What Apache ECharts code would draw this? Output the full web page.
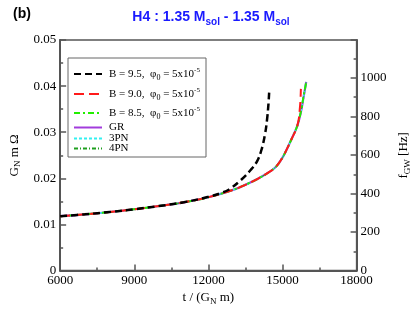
<!DOCTYPE html>
<html>
<head>
<meta charset="utf-8">
<script src="https://cdn.jsdelivr.net/npm/echarts@6/dist/echarts.min.js"></script>
<style>html,body{margin:0;padding:0;background:#fff}#c{width:420px;height:311px}</style>
</head>
<body>
<div id="c"></div>
<script>
// ---- data ----
var tGR   = [6000, 7000, 8000, 9000, 10000, 11000, 12000, 13000, 13500, 14000, 14500, 14750, 15000, 15200, 15400, 15600, 15750, 15850, 15960];
var wGR   = [0.0118, 0.0122, 0.0127, 0.0133, 0.0140, 0.0148, 0.0159, 0.0175, 0.0186, 0.0199, 0.0215, 0.0226, 0.0245, 0.0266, 0.0289, 0.0314, 0.0345, 0.0375, 0.0409];
var t3PN  = tGR;
var w3PN  = wGR;
var t4PN  = tGR;
var w4PN  = wGR;
var tB85  = [6000, 7000, 8000, 9000, 10000, 11000, 12000, 13000, 13500, 14000, 14500, 14750, 15000, 15200, 15400, 15600, 15750, 15850, 15970];
var wB85  = [0.0118, 0.0122, 0.0127, 0.0133, 0.0140, 0.0148, 0.0159, 0.0175, 0.0186, 0.0199, 0.0215, 0.0226, 0.0245, 0.0266, 0.0289, 0.0314, 0.0346, 0.0377, 0.0411];
var tB90  = [6000, 7000, 8000, 9000, 10000, 11000, 12000, 13000, 13500, 14000, 14500, 14750, 15000, 15200, 15400, 15550, 15650, 15700, 15730, 15745];
var wB90  = [0.0118, 0.0122, 0.0127, 0.0133, 0.0140, 0.0148, 0.0159, 0.0175, 0.0186, 0.0199, 0.0215, 0.0226, 0.0245, 0.0266, 0.0289, 0.0306, 0.0326, 0.0350, 0.0372, 0.0394];
var tB95  = [6000, 7000, 8000, 9000, 10000, 11000, 12000, 12500, 12840, 13330, 13710, 13970, 14150, 14300, 14380, 14430, 14460];
var wB95  = [0.0118, 0.0122, 0.0127, 0.0133, 0.0140, 0.0148, 0.0160, 0.0168, 0.0176, 0.0197, 0.0218, 0.0237, 0.0262, 0.0298, 0.0330, 0.0360, 0.0386];
var xTicks = [6000, 18000, 3000];
var yTicks = [0, 0.05, 0.01];
var fTicks = [0, 1196.8, 200];

function pairs(t, w) { return t.map(function (v, i) { return [v, w[i]]; }); }
function plain(v) { return String(v); }

var serif = 'Liberation Serif';
var rich = {
  n: {fontFamily: serif, fontSize: 11, color: '#000'},
  sub: {fontFamily: serif, fontSize: 8, color: '#000', padding: [7, 0, 0, 0]},
  sup: {fontFamily: serif, fontSize: 7, color: '#000', padding: [0, 0, 7, 0]}
};
var labels = {
  'B95': '{n|B = 9.5,  φ}{sub|0}{n| = 5x10}{sup|-5}',
  'B90': '{n|B = 9.0,  φ}{sub|0}{n| = 5x10}{sup|-5}',
  'B85': '{n|B = 8.5,  φ}{sub|0}{n| = 5x10}{sup|-5}',
  'GR': '{n|GR}',
  '3PN': '{n|3PN}',
  '4PN': '{n|4PN}'
};
var legendRows = [['B95', 72], ['B90', 92], ['B85', 111], ['GR', 127], ['3PN', 138], ['4PN', 148]];
var legends = legendRows.map(function (r) {
  return {
    data: [r[0]], left: 73, top: r[1] - 5, padding: 0, itemWidth: 28, itemHeight: 10, itemGap: 0,
    selectedMode: false,
    itemStyle: {opacity: 0},
    formatter: function (n) { return labels[n]; },
    textStyle: {rich: rich, padding: [0, 0, 0, 2]}
  };
});

var chart = echarts.init(document.getElementById('c'), null, {renderer: 'canvas'});
chart.setOption({
  animation: false,
  backgroundColor: '#fff',
  title: [{
    text: 'H4 : 1.35 M{s|sol} - 1.35 M{s|sol}', left: 206, top: 3, textAlign: 'center',
    textStyle: {fontFamily: 'Liberation Sans', fontWeight: 'bold', fontSize: 14, color: '#1a1aff',
      rich: {s: {fontFamily: 'Liberation Sans', fontWeight: 'bold', fontSize: 10, color: '#1a1aff', padding: [9, 0, 0, 0]}}}
  }, {
    text: '(b)', left: 8, top: 2,
    textStyle: {fontFamily: 'Liberation Sans', fontWeight: 'bold', fontSize: 14, color: '#000'}
  }],
  grid: {left: 48, right: 53, top: 40, bottom: 35, show: true, borderColor: '#555', borderWidth: 1.5},
  legend: legends,
  graphic: [{type: 'rect', shape: {x: 68, y: 58, width: 138, height: 99}, style: {fill: 'none', stroke: '#666', lineWidth: 1}, z: 100}],
  xAxis: {
    type: 'value', min: xTicks[0], max: xTicks[1], interval: xTicks[2],
    name: 't / (G{s|N} m)', nameLocation: 'middle', nameGap: 16,
    nameTextStyle: {fontFamily: serif, fontSize: 13, color: '#000', rich: {s: {fontFamily: serif, fontSize: 9, color: '#000', padding: [7, 0, 0, 0]}}},
    axisLine: {lineStyle: {color: '#555', width: 2}},
    axisTick: {inside: true, length: 6, lineStyle: {color: '#555', width: 1.5}},
    minorTick: {show: true, splitNumber: 2, length: 3, lineStyle: {color: '#555', width: 1.5}},
    axisLabel: {fontFamily: serif, fontSize: 13, color: '#000', margin: 3, formatter: plain},
    splitLine: {show: false}
  },
  yAxis: [{
    type: 'value', min: yTicks[0], max: yTicks[1], interval: yTicks[2],
    name: 'G{s|N} m Ω', nameLocation: 'middle', nameGap: 23, nameRotate: 90,
    nameTextStyle: {fontFamily: serif, fontSize: 13, color: '#000', rich: {s: {fontFamily: serif, fontSize: 9, color: '#000', padding: [7, 0, 0, 0]}}},
    axisLine: {lineStyle: {color: '#555', width: 2}},
    axisTick: {inside: true, length: 6, lineStyle: {color: '#555', width: 1.5}},
    minorTick: {show: true, splitNumber: 2, length: 3, lineStyle: {color: '#555', width: 1.5}},
    axisLabel: {fontFamily: serif, fontSize: 13, color: '#000', margin: 4, formatter: plain},
    splitLine: {show: false}
  }, {
    type: 'value', position: 'right', min: fTicks[0], max: fTicks[1], interval: fTicks[2],
    name: 'f{s|GW} [Hz]', nameLocation: 'middle', nameGap: 23, nameRotate: 90,
    nameTextStyle: {fontFamily: serif, fontSize: 13, color: '#000', rich: {s: {fontFamily: serif, fontSize: 9, color: '#000', padding: [7, 0, 0, 0]}}},
    axisLine: {show: true, lineStyle: {color: '#555', width: 2}},
    axisTick: {inside: true, length: 6, lineStyle: {color: '#555', width: 1.5}},
    minorTick: {show: true, splitNumber: 2, length: 3, lineStyle: {color: '#555', width: 1.5}},
    axisLabel: {fontFamily: serif, fontSize: 13, color: '#000', margin: 4, showMaxLabel: false, formatter: plain},
    splitLine: {show: false}
  }],
  series: [
    {name: 'GR', type: 'line', showSymbol: false, symbol: 'none', smooth: 0.4, data: pairs(tGR, wGR), lineStyle: {color: '#a23cdc', width: 2.2}, itemStyle: {color: '#a23cdc'}, z: 2},
    {name: '3PN', type: 'line', showSymbol: false, symbol: 'none', smooth: 0.4, data: pairs(t3PN, w3PN), lineStyle: {color: '#33f0f0', width: 1.5, type: [3, 2]}, itemStyle: {color: '#33f0f0'}, z: 3},
    {name: '4PN', type: 'line', showSymbol: false, symbol: 'none', smooth: 0.4, data: pairs(t4PN, w4PN), lineStyle: {color: '#1f9f1f', width: 1, type: [4, 2, 1, 2]}, itemStyle: {color: '#1f9f1f'}, z: 4},
    {name: 'B85', type: 'line', showSymbol: false, symbol: 'none', smooth: 0.4, data: pairs(tB85, wB85), lineStyle: {color: '#22ee00', width: 2, type: [6, 3, 2, 3]}, itemStyle: {color: '#22ee00'}, z: 5},
    {name: 'B90', type: 'line', showSymbol: false, symbol: 'none', smooth: 0.4, data: pairs(tB90, wB90), lineStyle: {color: '#ff1a1a', width: 2, type: [10, 5]}, itemStyle: {color: '#ff1a1a'}, z: 6},
    {name: 'B95', type: 'line', showSymbol: false, symbol: 'none', smooth: 0.4, data: pairs(tB95, wB95), lineStyle: {color: '#000', width: 2.5, type: [7, 4]}, itemStyle: {color: '#000'}, z: 7}
  ]
});
</script>
</body>
</html>
